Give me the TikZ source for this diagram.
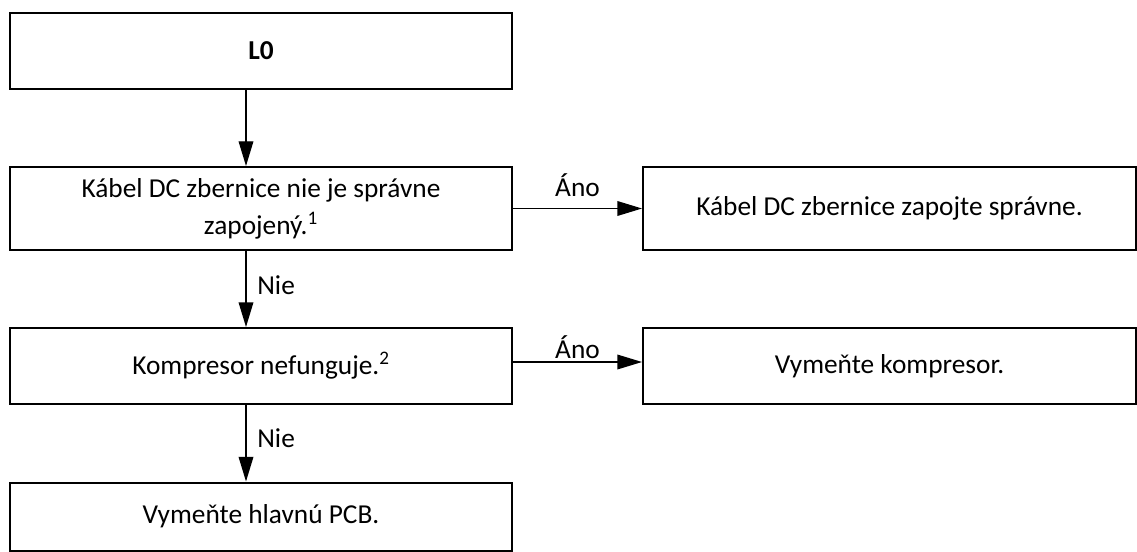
\documentclass[tikz,border=0pt]{standalone}
\usepackage{fontspec}
\setmainfont{Carlito}
\usetikzlibrary{arrows.meta, positioning, backgrounds}
\tikzset{
  cx/.style = {draw=black, fill=white, line width=1.5pt, inner sep=2pt,
    align=center, font=\fontsize{20.5}{27.75}\selectfont},
  lft/.style = {cx, minimum width=376.5pt, minimum height=#1},
  rgt/.style = {cx, minimum width=369.75pt, minimum height=#1},
  sa/.style = {-{Triangle[length=18.5pt, width=11pt]}, line width=1pt},
  lb/.style = {font=\fontsize{20.5}{24}\selectfont, inner sep=2pt}
}

\begin{document}
\begin{tikzpicture}[x=0.75pt, y=-0.75pt]
  \useasboundingbox [fill=white] (0,0) rectangle (1137,552);
  \coordinate (ax) at (246,0);
  \node [lft=57pt] (l0) at (261,51) {\textbf{L0}};
  \node [lft=62.25pt] (k1) at (261,208.5) {Kábel DC zbernice nie je správne\\zapojený.\textsuperscript{1}};
  \node [rgt=62.25pt] (r1) at (889.5,208.5) {Kábel DC zbernice zapojte správne.};
  \node [lft=57pt] (k2) at (261,366) {Kompresor nefunguje.\textsuperscript{2}};
  \node [rgt=57pt] (r2) at (889.5,366) {Vymeňte kompresor.};
  \node [lft=51pt] (pcb) at (261,516.5) {Vymeňte hlavnú PCB.};
  \draw [sa] (l0.south -| ax) -- (k1.north -| ax);
  \draw [sa] (k1.east) -- node [lb, above=6pt] {Áno} (r1.west);
  \draw [sa] (k1.south -| ax) -- node [lb, right=6pt, pos=0.45] {Nie} (k2.north -| ax);
  \draw [sa] ([yshift=3pt]k2.east) -- node [lb, above=0pt] {Áno} ([yshift=3pt]r2.west);
  \draw [sa] (k2.south -| ax) -- node [lb, right=6pt, pos=0.44] {Nie} (pcb.north -| ax);
\end{tikzpicture}
\end{document}
